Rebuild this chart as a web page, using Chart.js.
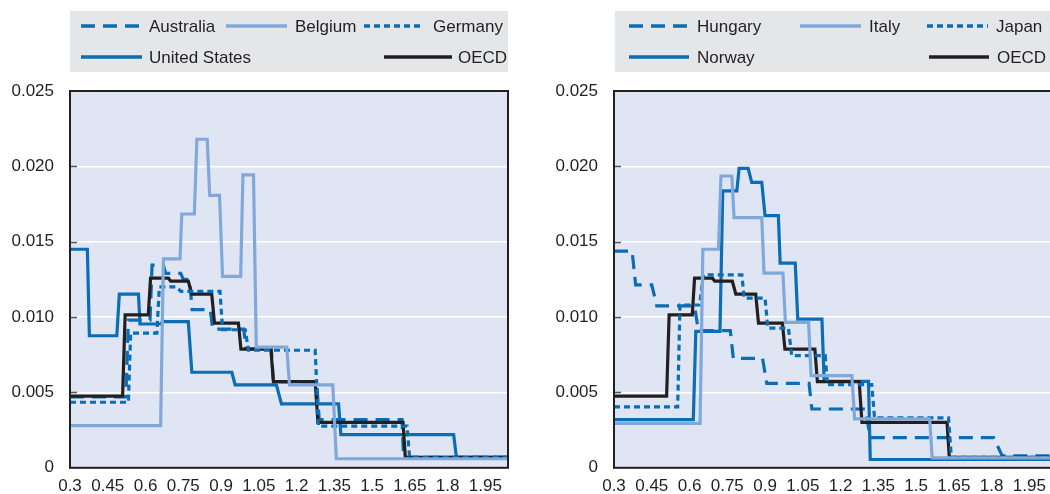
<!DOCTYPE html>
<html>
<head>
<meta charset="utf-8">
<script src="https://cdn.jsdelivr.net/npm/chart.js@4/dist/chart.umd.min.js"></script>
<style>
  html, body { margin: 0; padding: 0; background: #fff; overflow: hidden; width: 1050px; height: 494px; }
  .panel { position: absolute; top: 0; }
</style>
</head>
<body>
<div class="panel" style="left:0"><canvas id="left" width="525" height="494"></canvas></div>
<div class="panel" style="left:544px"><canvas id="right" width="525" height="494"></canvas></div>
<script>
// tick labels
const xTicks = [0.3, 0.45, 0.6, 0.75, 0.9, 1.05, 1.2, 1.35, 1.5, 1.65, 1.8, 1.95];
const yTicks = [0, 0.005, 0.01, 0.015, 0.02, 0.025];

// series, [x, y] vertices
const oecd = [[0.3,0.00475],[0.509,0.00475],[0.519,0.01015],[0.611,0.01015],[0.62,0.01258],[0.691,0.01258],[0.70,0.01238],[0.77,0.01238],[0.784,0.01152],[0.863,0.01152],[0.874,0.0096],[0.969,0.0096],[0.979,0.00788],[1.098,0.00788],[1.108,0.00572],[1.274,0.00572],[1.285,0.00302],[1.623,0.00302],[1.632,0.0007],[2.04,0.0007]];
const australia = [[0.3,0.0047],[0.522,0.0047],[0.532,0.0098],[0.618,0.0098],[0.626,0.01345],[0.671,0.01345],[0.68,0.0129],[0.74,0.0129],[0.75,0.0125],[0.775,0.0125],[0.785,0.0105],[0.857,0.0105],[0.867,0.0092],[0.99,0.0092],[1.0,0.0079],[1.10,0.0079],[1.108,0.0057],[1.28,0.0057],[1.29,0.0032],[1.619,0.0032],[1.625,0.0007],[2.04,0.0007]];
const belgium = [[0.3,0.0028],[0.66,0.0028],[0.671,0.01386],[0.737,0.01386],[0.744,0.01684],[0.794,0.01684],[0.804,0.0218],[0.845,0.0218],[0.855,0.01808],[0.894,0.01808],[0.906,0.0127],[0.978,0.0127],[0.987,0.01943],[1.029,0.01943],[1.04,0.008],[1.161,0.008],[1.172,0.0055],[1.344,0.0055],[1.358,0.0006],[2.04,0.0006]];
const germany = [[0.3,0.00435],[0.532,0.00435],[0.541,0.00894],[0.645,0.00894],[0.655,0.012],[0.724,0.012],[0.74,0.0117],[0.896,0.0117],[0.906,0.00916],[0.996,0.00916],[1.009,0.0078],[1.274,0.0078],[1.287,0.00276],[1.639,0.00276],[1.649,0.0007],[2.04,0.0007]];
const unitedStates = [[0.3,0.0145],[0.369,0.0145],[0.377,0.00876],[0.486,0.00876],[0.496,0.01152],[0.572,0.01152],[0.578,0.00954],[0.66,0.00954],[0.668,0.0097],[0.77,0.0097],[0.784,0.00634],[0.943,0.00634],[0.956,0.0055],[1.12,0.0055],[1.14,0.00424],[1.367,0.00424],[1.376,0.0022],[1.824,0.0022],[1.835,0.0007],[2.04,0.0007]];
const hungary = [[0.3,0.01437],[0.372,0.01437],[0.386,0.01214],[0.45,0.01214],[0.47,0.01074],[0.62,0.01074],[0.635,0.0091],[0.762,0.0091],[0.774,0.00726],[0.89,0.00726],[0.907,0.0056],[1.075,0.0056],[1.086,0.0039],[1.298,0.0039],[1.318,0.002],[1.808,0.002],[1.842,0.0008],[2.04,0.0008]];
const italy = [[0.3,0.00295],[0.642,0.00295],[0.653,0.0145],[0.715,0.0145],[0.725,0.01936],[0.768,0.01936],[0.777,0.0166],[0.887,0.0166],[0.896,0.01291],[0.971,0.01291],[0.981,0.00965],[1.073,0.00965],[1.083,0.00611],[1.245,0.00611],[1.256,0.00325],[1.554,0.00325],[1.564,0.00066],[2.04,0.00066]];
const japan = [[0.3,0.00404],[0.553,0.00404],[0.562,0.0108],[0.64,0.0108],[0.655,0.0128],[0.808,0.0128],[0.817,0.01126],[0.9,0.01126],[0.911,0.00927],[0.993,0.00927],[1.006,0.00744],[1.139,0.00744],[1.148,0.00552],[1.324,0.00552],[1.335,0.00331],[1.629,0.00331],[1.64,0.0007],[2.04,0.0007]];
const norway = [[0.3,0.0032],[0.615,0.0032],[0.625,0.00905],[0.721,0.00905],[0.732,0.01837],[0.788,0.01837],[0.797,0.01987],[0.833,0.01987],[0.847,0.01894],[0.887,0.01894],[0.9,0.01673],[0.953,0.01673],[0.96,0.01358],[1.02,0.01358],[1.03,0.00987],[1.126,0.00987],[1.135,0.00574],[1.311,0.00574],[1.318,0.00055],[2.04,0.00055]];

const BLUE = "#0a6db5";
const LIGHT = "#80a8da";
const BLACK = "#231f20";
const FONT = "'Liberation Sans', Arial, sans-serif";

Chart.defaults.font.family = FONT;
Chart.defaults.font.size = 17;
Chart.defaults.color = BLACK;

function pts(arr) {
  return arr.map(([x, y]) => ({ x: x, y: y }));
}

function ds(label, arr, color, dash) {
  return {
    label: label,
    data: pts(arr),
    borderColor: color,
    borderWidth: 3.2,
    borderDash: dash || [],
    pointRadius: 0,
    tension: 0,
    fill: false,
  };
}

// background, frame, inner y ticks
const framePlugin = {
  id: "frame",
  beforeDraw(chart) {
    const a = chart.chartArea;
    const c = chart.ctx;
    c.save();
    c.fillStyle = "#dfe5f3";
    c.fillRect(a.left, a.top, a.right - a.left, a.bottom - a.top);
    c.restore();
  },
  afterDatasetsDraw(chart) {
    const a = chart.chartArea;
    const c = chart.ctx;
    const y = chart.scales.y;
    c.save();
    c.strokeStyle = "#555";
    c.lineWidth = 1.5;
    yTicks.forEach((v) => {
      if (v === 0 || v === 0.025) return;
      const py = Math.round(y.getPixelForValue(v)) + 0.5;
      c.beginPath();
      c.moveTo(a.left, py);
      c.lineTo(a.left + 7, py);
      c.stroke();
    });
    c.strokeStyle = BLACK;
    c.lineWidth = 2;
    c.strokeRect(a.left, a.top, a.right - a.left, a.bottom - a.top);
    c.restore();
  },
};

// legend box drawn above the plot
const legendPlugin = {
  id: "boxLegend",
  afterDraw(chart, args, opts) {
    const c = chart.ctx;
    c.save();
    c.fillStyle = "#e5e6e8";
    c.fillRect(opts.box[0], opts.box[1], opts.box[2], opts.box[3]);
    c.font = "17px " + FONT;
    c.textBaseline = "middle";
    c.fillStyle = BLACK;
    opts.items.forEach((it) => {
      const d = chart.data.datasets[it.index];
      c.strokeStyle = d.borderColor;
      c.lineWidth = 3.5;
      c.setLineDash(d.borderDash);
      c.beginPath();
      c.moveTo(it.x1, it.y);
      c.lineTo(it.x2, it.y);
      c.stroke();
      c.setLineDash([]);
      c.fillText(d.label, it.tx, it.y + 1);
    });
    c.restore();
  },
};

function makeChart(id, datasets, legendItems, box) {
  return new Chart(document.getElementById(id), {
    type: "line",
    data: { datasets: datasets },
    plugins: [framePlugin, legendPlugin],
    options: {
      responsive: false,
      animation: false,
      devicePixelRatio: 1,
      layout: { padding: { top: 91, right: 17, left: 0, bottom: 0 } },
      plugins: {
        legend: { display: false },
        tooltip: { enabled: false },
        boxLegend: { items: legendItems, box: box },
      },
      scales: {
        x: {
          type: "linear",
          min: 0.3,
          max: 2.04,
          afterBuildTicks: (s) => { s.ticks = xTicks.map((v) => ({ value: v })); },
          afterFit: (s) => { s.height = 26; },
          grid: { display: false, drawTicks: false },
          border: { display: false },
          ticks: {
            autoSkip: false,
            maxRotation: 0,
            padding: 8,
            color: BLACK,
            callback: (v) => String(Math.round(v * 100) / 100),
          },
        },
        y: {
          min: 0,
          max: 0.025,
          afterBuildTicks: (s) => { s.ticks = yTicks.map((v) => ({ value: v })); },
          afterFit: (s) => { s.width = 70; },
          grid: {
            drawTicks: false,
            lineWidth: 1.5,
            color: (ctx) => (ctx.tick && ctx.tick.value > 0 && ctx.tick.value < 0.025 ? "#ffffff" : "rgba(0,0,0,0)"),
          },
          border: { display: false },
          ticks: {
            padding: 16,
            color: BLACK,
            callback: (v) => (v === 0 ? "0" : v.toFixed(3)),
          },
        },
      },
    },
  });
}

makeChart(
  "left",
  [
    ds("Belgium", belgium, LIGHT),
    ds("Germany", germany, BLUE, [6, 4]),
    ds("OECD", oecd, BLACK),
    ds("Australia", australia, BLUE, [14, 8]),
    ds("United States", unitedStates, BLUE),
  ],
  [
    { index: 3, x1: 81, x2: 142, tx: 149, y: 26 },
    { index: 0, x1: 226, x2: 287, tx: 295, y: 26 },
    { index: 1, x1: 364, x2: 424, tx: 433, y: 26 },
    { index: 4, x1: 81, x2: 142, tx: 149, y: 57 },
    { index: 2, x1: 384, x2: 452, tx: 458, y: 57 },
  ],
  [70, 11, 438, 61]
);

makeChart(
  "right",
  [
    ds("Italy", italy, LIGHT),
    ds("Japan", japan, BLUE, [6, 4]),
    ds("OECD", oecd, BLACK),
    ds("Hungary", hungary, BLUE, [14, 8]),
    ds("Norway", norway, BLUE),
  ],
  [
    { index: 3, x1: 85, x2: 145, tx: 153, y: 26 },
    { index: 0, x1: 256, x2: 317, tx: 325, y: 26 },
    { index: 1, x1: 383, x2: 444, tx: 452, y: 26 },
    { index: 4, x1: 85, x2: 145, tx: 153, y: 57 },
    { index: 2, x1: 385, x2: 445, tx: 453, y: 57 },
  ],
  [71, 11, 454, 61]
);
</script>
</body>
</html>
